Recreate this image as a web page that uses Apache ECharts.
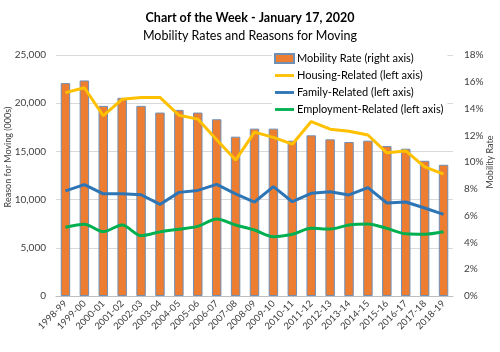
<!DOCTYPE html>
<html>
<head>
<meta charset="utf-8">
<script src="https://cdn.jsdelivr.net/npm/echarts@6/dist/echarts.min.js"></script>
<style>
html,body{margin:0;padding:0;background:#fff;}
#chart{width:500px;height:352px;}
</style>
</head>
<body>
<div id="chart"></div>
<script>
const categories = ['1998-99','1999-00','2000-01','2001-02','2002-03','2003-04','2004-05','2005-06','2006-07','2007-08','2008-09','2009-10','2010-11','2011-12','2012-13','2013-14','2014-15','2015-16','2016-17','2017-18','2018-19'];
const mobilityRate = [15.9,16.1,14.2,14.8,14.2,13.7,13.9,13.7,13.2,11.9,12.5,12.5,11.6,12.0,11.7,11.5,11.6,11.2,11.0,10.1,9.8];
const housingRelated = [21100,21600,18700,20400,20600,20600,18750,18350,16200,14100,17000,16450,15750,18100,17300,17100,16700,14850,15050,13400,12650];
const familyRelated = [10900,11550,10600,10600,10500,9500,10750,10950,11580,10600,9750,11350,9780,10650,10820,10480,11240,9650,9750,9130,8470];
const employmentRelated = [7130,7440,6670,7370,6250,6650,6930,7220,7990,7370,6850,6150,6400,7020,6950,7370,7470,7020,6450,6400,6660];
const leftTicks = {min:0, max:25000, interval:5000};
const rightTicks = {min:0, max:18, interval:2};

const FONT = 'Lato';
const chart = echarts.init(document.getElementById('chart'), null, {renderer:'canvas'});
const fmtThousands = v => String(v).replace(/\B(?=(\d{3})+(?!\d))/g, ',');
const LINE_ICON = 'path://M0,0H40V6H0Z';

chart.setOption({
  animation: false,
  backgroundColor: '#fff',
  textStyle: {fontFamily: FONT},
  title: [
    {text: 'Chart of the Week - January 17, 2020', left: 'center', top: 6,
     textStyle: {fontFamily: FONT, fontSize: 12.5, fontWeight: 'bold', color: '#000'}},
    {text: 'Mobility Rates and Reasons for Moving', left: 'center', top: 24,
     textStyle: {fontFamily: FONT, fontSize: 12.5, fontWeight: 'normal', color: '#000'}}
  ],
  graphic: [
    {type: 'text', x: 8, y: 157, rotation: Math.PI / 2,
     style: {text: 'Reason for Moving (000s)', fontFamily: FONT, fontSize: 9, fill: '#404040', align: 'center', verticalAlign: 'middle'}},
    {type: 'text', x: 490, y: 162, rotation: Math.PI / 2,
     style: {text: 'Mobility Rate', fontFamily: FONT, fontSize: 9, fill: '#404040', align: 'center', verticalAlign: 'middle'}}
  ],
  legend: {
    orient: 'vertical',
    left: 272, top: 51,
    padding: [2, 4, 2, 2],
    backgroundColor: '#fff',
    itemWidth: 19, itemHeight: 9, itemGap: 6,
    textStyle: {fontFamily: FONT, fontSize: 11, color: '#000', padding: [0,0,0,-2]},
    data: [
      {name: 'Mobility Rate (right axis)', icon: 'rect'},
      {name: 'Housing-Related (left axis)', icon: LINE_ICON},
      {name: 'Family-Related (left axis)', icon: LINE_ICON},
      {name: 'Employment-Related (left axis)', icon: LINE_ICON}
    ]
  },
  grid: {left: 56, right: 47, top: 55, bottom: 56},
  xAxis: {
    type: 'category',
    data: categories,
    axisLine: {lineStyle: {color: '#BFBFBF'}},
    axisTick: {show: false},
    axisLabel: {rotate: 45, interval: 0, fontFamily: FONT, fontSize: 9.5, color: '#404040', margin: 6}
  },
  yAxis: [
    {
      type: 'value', min: leftTicks.min, max: leftTicks.max, interval: leftTicks.interval,
      axisLine: {show: false}, axisTick: {show: false},
      axisLabel: {fontFamily: FONT, fontSize: 10, color: '#404040', margin: 10, formatter: fmtThousands},
      splitLine: {lineStyle: {color: '#D9D9D9'}}
    },
    {
      type: 'value', min: rightTicks.min, max: rightTicks.max, interval: rightTicks.interval,
      axisLine: {show: false}, axisTick: {show: false},
      axisLabel: {fontFamily: FONT, fontSize: 10, color: '#404040', margin: 11, formatter: '{value}%'},
      splitLine: {show: false}
    }
  ],
  series: [
    {
      name: 'Mobility Rate (right axis)', type: 'bar', yAxisIndex: 1, data: mobilityRate,
      barWidth: '50%',
      itemStyle: {color: '#ED7D31', borderColor: '#6F8FB5', borderWidth: 1},
      z: 1
    },
    {
      name: 'Housing-Related (left axis)', type: 'line', yAxisIndex: 0, data: housingRelated,
      symbol: 'none', lineStyle: {color: '#FFC000', width: 3}, itemStyle: {color: '#FFC000'}, z: 3
    },
    {
      name: 'Family-Related (left axis)', type: 'line', yAxisIndex: 0, data: familyRelated,
      symbol: 'none', lineStyle: {color: '#2E75B6', width: 3}, itemStyle: {color: '#2E75B6'}, z: 3
    },
    {
      name: 'Employment-Related (left axis)', type: 'line', yAxisIndex: 0, data: employmentRelated,
      symbol: 'none', smooth: 0.3, lineStyle: {color: '#00B050', width: 3}, itemStyle: {color: '#00B050'}, z: 3
    }
  ]
});
</script>
</body>
</html>
